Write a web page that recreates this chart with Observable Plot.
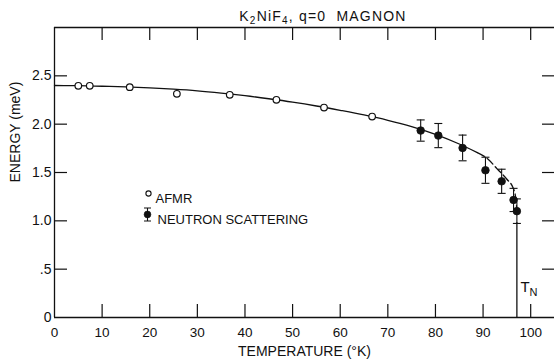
<!DOCTYPE html>
<html>
<head>
<meta charset="utf-8">
<script src="https://cdn.jsdelivr.net/npm/d3@7"></script>
<script src="https://cdn.jsdelivr.net/npm/@observablehq/plot@0.6"></script>
<style>
  body { margin: 0; background: #fff; overflow: hidden; }
  svg { display: block; }
</style>
</head>
<body>
<div id="chart"></div>
<script>
// AFMR resonance energies (open circles)
const afmrT = [5.0, 7.4, 15.8, 25.7, 36.8, 46.6, 56.6, 66.7];
const afmrE = [2.397, 2.397, 2.383, 2.314, 2.304, 2.252, 2.172, 2.079];

// Neutron scattering energies with error bars (filled circles)
const neutronT = [76.9, 80.6, 85.7, 90.5, 93.9, 96.4, 97.1];
const neutronE = [1.934, 1.882, 1.754, 1.523, 1.409, 1.216, 1.10];
const neutronErr = [0.11, 0.125, 0.133, 0.135, 0.125, 0.12, 0.127];

// Guide curve through the data
const curveT = [0, 5, 10, 15, 20, 25, 30, 35, 40, 45, 50, 55, 60, 65, 70, 75, 80, 85, 88.8, 91, 93, 95, 96.4, 96.9, 97.1];
const curveE = [2.400, 2.398, 2.392, 2.385, 2.375, 2.362, 2.345, 2.322, 2.295, 2.263, 2.228, 2.188, 2.143, 2.095, 2.040, 1.975, 1.895, 1.795, 1.706, 1.64, 1.535, 1.43, 1.33, 1.22, 1.10];
const dashFrom = 88.8;

// Neel temperature
const neelT = 97.1;

// Axis ticks
const xTicks = [0, 10, 20, 30, 40, 50, 60, 70, 80, 90, 100];
const xTickLabels = ["0", "10", "20", "30", "40", "50", "60", "70", "80", "90", "100"];
const yTicks = [0, 0.5, 1.0, 1.5, 2.0, 2.5];
const yTickLabels = ["0", ".5", "1.0", "1.5", "2.0", "2.5"];

const ink = "#111";
const font = "'Liberation Sans', Arial, Helvetica, sans-serif";

const afmr = afmrT.map((T, i) => ({T, E: afmrE[i]}));
const neutron = neutronT.map((T, i) => ({T, E: neutronE[i], err: neutronErr[i]}));
const curve = curveT.map((T, i) => ({T, E: curveE[i]}));

const W = 554, H = 360;
const mL = 54, mR = 0, mT = 27, mB = 43;
const FW = W - mL - mR, FH = H - mT - mB;
const tickLen = 13;

// horizontal cap drawn at each error-bar end
const cap = {draw(ctx) { ctx.moveTo(-4, 0); ctx.lineTo(4, 0); }};
// legend glyph: vertical bar with caps
const legendBar = {draw(ctx) {
  ctx.moveTo(-3.5, -6.5); ctx.lineTo(3.5, -6.5);
  ctx.moveTo(0, -6.5); ctx.lineTo(0, 6.5);
  ctx.moveTo(-3.5, 6.5); ctx.lineTo(3.5, 6.5);
}};

const plot = Plot.plot({
  width: W,
  height: H,
  marginLeft: mL,
  marginRight: mR,
  marginTop: mT,
  marginBottom: mB,
  x: {domain: [0, 105]},
  y: {domain: [0, 3]},
  style: {fontFamily: font, fontSize: "14px", color: ink, background: "#fff"},
  marks: [
    // frame: left, bottom, top
    Plot.ruleX([0], {stroke: ink, strokeWidth: 1.3}),
    Plot.ruleY([0], {stroke: ink, strokeWidth: 1.3}),
    Plot.ruleY([3], {stroke: ink, strokeWidth: 1.3}),

    // inward ticks on all four sides
    Plot.tickX(xTicks.filter(t => t > 0), {x: d => d, insetBottom: FH - tickLen, stroke: ink, strokeWidth: 1.2}),
    Plot.tickX(xTicks.filter(t => t > 0), {x: d => d, insetTop: FH - tickLen, stroke: ink, strokeWidth: 1.2}),
    Plot.tickY(yTicks.filter(t => t > 0), {y: d => d, insetRight: FW - tickLen, stroke: ink, strokeWidth: 1.2}),
    Plot.tickY(yTicks.filter(t => t > 0), {y: d => d, insetLeft: FW - 12, stroke: ink, strokeWidth: 1.2}),

    Plot.axisX({ticks: xTicks, tickSize: 0, tickPadding: 10, fontSize: 13.5, label: null,
      tickFormat: d => xTickLabels[xTicks.indexOf(d)]}),
    Plot.axisY({ticks: yTicks, tickSize: 0, tickPadding: 3, fontSize: 14, label: null,
      tickFormat: d => yTickLabels[yTicks.indexOf(d)]}),

    // axis titles
    Plot.text(["TEMPERATURE (°K)"], {frameAnchor: "bottom", dy: 38, lineAnchor: "bottom",
      fontSize: 14, fill: ink, style: "letter-spacing:1.2px"}),
    Plot.text(["ENERGY (meV)"], {frameAnchor: "left", dx: -39, dy: 10, rotate: -90,
      fontSize: 14, fill: ink, style: "letter-spacing:0.3px"}),

    // Neel temperature marker
    Plot.ruleX([neelT], {y1: 0, y2: 0.98, stroke: ink, strokeWidth: 1.3}),

    // guide curve: solid, then broken near T_N
    Plot.line(curve.filter(d => d.T <= dashFrom), {x: "T", y: "E", stroke: ink, strokeWidth: 1.3, curve: "monotone-x"}),
    Plot.line(curve.filter(d => d.T >= dashFrom), {x: "T", y: "E", stroke: ink, strokeWidth: 1.3,
      strokeDasharray: "8,3.5", curve: "monotone-x"}),

    // neutron error bars
    Plot.ruleX(neutron, {x: "T", y1: d => d.E - d.err, y2: d => d.E + d.err, stroke: ink, strokeWidth: 1.1}),
    Plot.dot(neutron, {x: "T", y: d => d.E + d.err, symbol: cap, stroke: ink, fill: "none", strokeWidth: 1.1}),
    Plot.dot(neutron, {x: "T", y: d => d.E - d.err, symbol: cap, stroke: ink, fill: "none", strokeWidth: 1.1}),
    Plot.dot(neutron, {x: "T", y: "E", r: 3.8, fill: ink, stroke: ink, strokeWidth: 0.8}),

    // AFMR points
    Plot.dot(afmr, {x: "T", y: "E", r: 3.3, fill: "#fff", stroke: ink, strokeWidth: 1.2}),

    // legend
    Plot.dot([0], {frameAnchor: "top-left", dx: 94, dy: 166, r: 2.6, fill: "#fff", stroke: ink, strokeWidth: 1.1}),
    Plot.text(["AFMR"], {frameAnchor: "top-left", dx: 101, dy: 166, textAnchor: "start", fontSize: 13, fill: ink}),
    Plot.dot([0], {frameAnchor: "top-left", dx: 93, dy: 187, symbol: legendBar, stroke: ink, fill: "none", strokeWidth: 1.1}),
    Plot.dot([0], {frameAnchor: "top-left", dx: 93, dy: 187, r: 3.4, fill: ink, stroke: ink, strokeWidth: 0.6}),
    Plot.text(["NEUTRON SCATTERING"], {frameAnchor: "top-left", dx: 103, dy: 187, textAnchor: "start", fontSize: 13, fill: ink})
  ]
});

const svg = d3.select(plot);
const xs = plot.scale("x");

// title with chemical subscripts
const title = svg.append("text")
  .attr("x", 323).attr("y", 21)
  .attr("text-anchor", "middle")
  .attr("font-size", 14)
  .attr("letter-spacing", 1.2)
  .attr("fill", ink)
  .style("white-space", "pre");
title.append("tspan").text("K");
title.append("tspan").attr("font-size", 10).attr("dy", 3).text("2");
title.append("tspan").attr("dy", -3).text("NiF");
title.append("tspan").attr("font-size", 10).attr("dy", 3).text("4");
title.append("tspan").attr("dy", -3).text(", q=0  MAGNON");

// T_N label beside the marker
const tn = svg.append("text")
  .attr("x", xs.apply(neelT) + 4).attr("y", 292)
  .attr("text-anchor", "start")
  .attr("font-size", 15)
  .attr("fill", ink);
tn.append("tspan").text("T");
tn.append("tspan").attr("font-size", 11).attr("dy", 4).text("N");

document.getElementById("chart").append(plot);
</script>
</body>
</html>
